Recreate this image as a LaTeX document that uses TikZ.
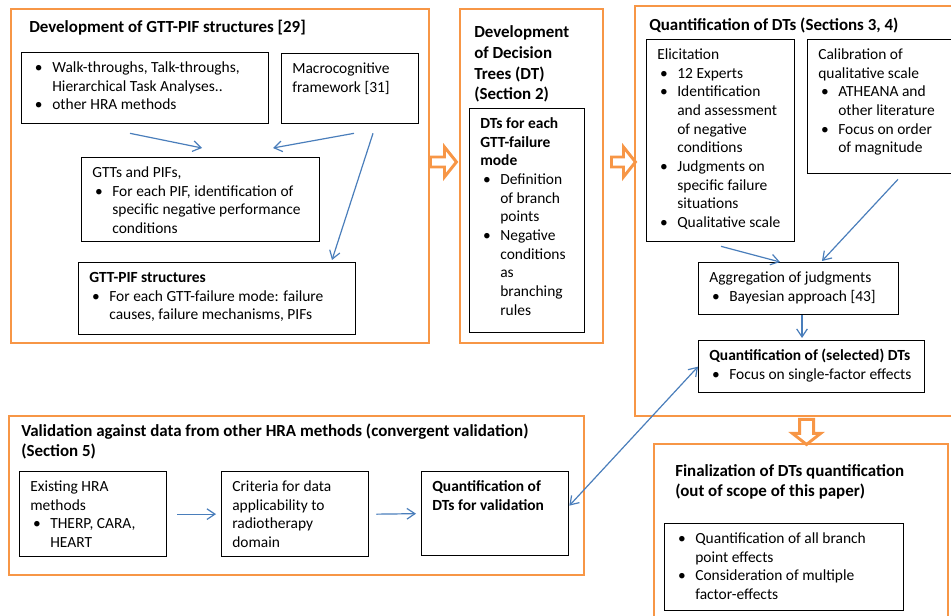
\documentclass[tikz,border=0pt]{standalone}
\usepackage{fontspec}
\setmainfont{Carlito}
\usetikzlibrary{arrows.meta,fit}

\definecolor{stageorange}{HTML}{F79646}
\definecolor{flowblue}{HTML}{4A7EBB}

\newdimen\px \px=0.75pt
\newcommand{\cell}[3]{\parbox[t][\dimexpr#2\px-10.4pt\relax][t]{#1\px}{\leftskip=8pt\rightskip=-20pt plus 1fil\let\\\newline\fontsize{11.6}{14}\selectfont\everypar{\strut}#3}}
\newcommand{\itm}{\par\noindent\hangindent=15pt\hangafter=1\makebox[15pt][l]{\hspace{2pt}\textbullet}}

\tikzset{
  stage/.style={draw=stageorange, line width=2.2pt, inner sep=0pt},
  box/.style={draw, line width=1pt, anchor=north west, inner xsep=0pt, inner ysep=5.2pt},
  title/.style={anchor=base west, inner sep=0pt, align=left, font=\fontsize{12.7}{15.6}\selectfont\bfseries},
  flow/.style={draw=flowblue, line width=0.9pt, -{Straight Barb[length=6pt,width=8pt]}},
  hollow/.style={draw=stageorange, line width=2.2pt, fill=white, line join=miter}
}

\begin{document}
\begin{tikzpicture}[x=0.75pt, y=-0.75pt]
\useasboundingbox (0,0) rectangle (951,616);

\node[stage, fit={(11,9) (429,343)}] (gttdev) {};
\node[stage, fit={(460,9) (603,343)}] (dtdev) {};
\node[stage, fit={(635,6) (960,416)}] (dtquant) {};
\node[stage, fit={(9,416) (584,575)}] (valid) {};
\node[stage, fit={(654,444) (948,630)}] (final) {};

% multi-line titles sit on the baseline of their last line
\node[title] (gttdev-t) at (29,33) {Development of GTT-PIF structures [29]};
\node[title] (dtdev-t) at (474,100) {Development\\of Decision\\Trees (DT)\\(Section 2)};
\node[title] (dtquant-t) at (649,31) {Quantification of DTs (Sections 3, 4)};
\node[title] (valid-t) at (21,457) {Validation against data from other HRA methods (convergent validation)\\(Section 5)};
\node[title] (final-t) at (675,497) {Finalization of DTs quantification\\(out of scope of this paper)};

\node[box] (walk) at (21,52) {\cell{247}{71}{\itm Walk-throughs, Talk-throughs,\\Hierarchical Task Analyses..
  \itm other HRA methods}};
\node[box] (macro) at (281,53) {\cell{137}{70}{Macrocognitive\\framework [31]}};
\node[box] (gtts) at (81,157) {\cell{238}{84}{GTTs and PIFs,
  \itm For each PIF, identification of\\specific negative performance\\conditions}};
\node[box] (gttpif) at (78,262) {\cell{277}{72}{\textbf{GTT-PIF structures}
  \itm For each GTT-failure mode: failure\\causes, failure mechanisms, PIFs}};

\node[box] (dtmodes) at (469,108) {\cell{115}{224}{\textbf{DTs for each\\GTT-failure\\mode}
  \itm Definition\\of branch\\points
  \itm Negative\\conditions\\as\\branching\\rules}};

\node[box] (elicit) at (646,39) {\cell{148}{202}{Elicitation
  \itm 12 Experts
  \itm Identification\\and assessment\\of negative\\conditions
  \itm Judgments on\\specific failure\\situations
  \itm Qualitative scale}};
\node[box] (calib) at (807,39) {\cell{152}{134}{Calibration of\\qualitative scale
  \itm ATHEANA and\\other literature
  \itm Focus on order\\of magnitude}};
\node[box] (aggr) at (698,262) {\cell{200}{52}{Aggregation of judgments
  \itm Bayesian approach [43]}};
\node[box] (qsel) at (698,340) {\cell{226}{52}{\textbf{Quantification of (selected) DTs}
  \itm Focus on single-factor effects}};

\node[box] (hra) at (19,471) {\cell{147}{85}{Existing HRA\\methods
  \itm THERP, CARA,\\HEART}};
\node[box] (criteria) at (221,471) {\cell{147}{85}{Criteria for data\\applicability to\\radiotherapy\\domain}};
\node[box] (qval) at (421,471) {\cell{147}{84}{\textbf{Quantification of\\DTs for validation}}};

\node[box] (finrest) at (664,523) {\cell{239}{87}{\itm Quantification of all branch\\point effects
  \itm Consideration of multiple\\factor-effects}};

\draw[flow] ([shift={(109,9)}]walk.south west) -- ([shift={(121,-9)}]gtts.north west);
\draw[flow] ([shift={(73,9)}]macro.south west) -- ([shift={(192,-9)}]gtts.north west);
\draw[flow] ([shift={(92,9)}]macro.south west) -- ([shift={(254,-2)}]gttpif.north west);
\draw[flow] ([shift={(75,4)}]elicit.south west) -- ([shift={(82,0)}]aggr.north west);
\draw[flow] ([shift={(91,5)}]calib.south west) -- ([shift={(124,-1)}]aggr.north west);
\draw[flow] ([shift={(104,0)}]aggr.south west) -- ([shift={(104,-2)}]qsel.north west);
\draw[flow] ([shift={(10,0)}]hra.east) -- ([shift={(-5,0)}]criteria.west);
\draw[flow] ([shift={(7,0)}]criteria.east) -- ([shift={(-5,0)}]qval.west);
\draw[flow, {Straight Barb[length=6pt,width=8pt]}-{Straight Barb[length=6pt,width=8pt]}] ([shift={(0,-8)}]qval.east) -- (qsel.west);

% hollow block arrows between the stages
\draw[hollow] ([shift={(0,-19)}]gttdev.east) -- ++(14,0) -- ++(0,-10) -- ++(12,15) -- ++(-12,15) -- ++(0,-10) -- ++(-14,0) -- cycle;
\draw[hollow] ([shift={(7,-19)}]dtdev.east) -- ++(12,0) -- ++(0,-10) -- ++(12,15) -- ++(-12,15) -- ++(0,-10) -- ++(-12,0) -- cycle;
\draw[hollow] ([shift={(166,2)}]dtquant.south west) -- ++(14,0) -- ++(0,14) -- ++(7,0) -- ++(-14,11) -- ++(-14,-11) -- ++(7,0) -- cycle;
\end{tikzpicture}
\end{document}
